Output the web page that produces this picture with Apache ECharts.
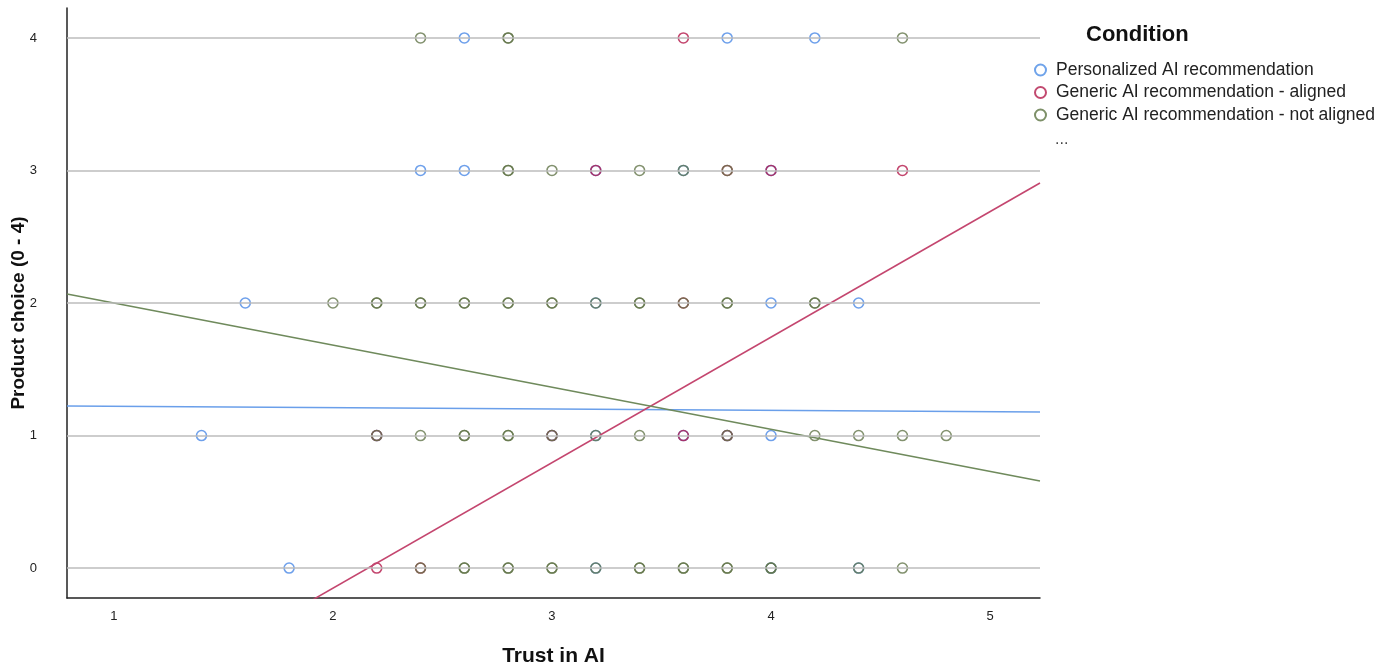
<!DOCTYPE html>
<html>
<head>
<meta charset="utf-8">
<script src="https://cdn.jsdelivr.net/npm/echarts@6/dist/echarts.min.js"></script>
<style>
  html, body { margin: 0; padding: 0; background: #fff; }
  #chart { width: 1385px; height: 668px; }
</style>
</head>
<body>
<div id="chart"></div>
<script>
// scatter points [trust, choice]
const personalized = [
  [2.6, 4], [3.8, 4], [4.2, 4],
  [2.4, 3], [2.6, 3], [3.2, 3], [3.6, 3], [4.0, 3],
  [1.6, 2], [3.2, 2], [4.0, 2], [4.4, 2],
  [1.4, 1], [2.2, 1], [3.0, 1], [3.2, 1], [3.6, 1], [3.8, 1], [4.0, 1],
  [1.8, 0], [3.2, 0], [4.0, 0], [4.4, 0]
];
const aligned = [
  [3.6, 4],
  [3.2, 3], [3.8, 3], [4.0, 3], [4.6, 3],
  [3.6, 2],
  [2.2, 1], [3.0, 1], [3.6, 1], [3.8, 1],
  [2.2, 0], [2.4, 0]
];
const notAligned = [
  [2.4, 4], [2.8, 4], [2.8, 4], [4.6, 4],
  [2.8, 3], [2.8, 3], [3.0, 3], [3.4, 3], [3.6, 3], [3.8, 3],
  [2.0, 2], [2.2, 2], [2.2, 2], [2.4, 2], [2.4, 2], [2.6, 2], [2.6, 2], [2.8, 2], [2.8, 2],
  [3.0, 2], [3.0, 2], [3.2, 2], [3.4, 2], [3.4, 2], [3.6, 2], [3.8, 2], [3.8, 2], [4.2, 2], [4.2, 2],
  [2.2, 1], [2.4, 1], [2.6, 1], [2.6, 1], [2.8, 1], [2.8, 1], [3.0, 1], [3.2, 1], [3.4, 1],
  [3.8, 1], [4.2, 1], [4.4, 1], [4.6, 1], [4.8, 1],
  [2.4, 0], [2.6, 0], [2.6, 0], [2.8, 0], [2.8, 0], [3.0, 0], [3.0, 0], [3.2, 0], [3.4, 0],
  [3.4, 0], [3.6, 0], [3.6, 0], [3.8, 0], [3.8, 0], [4.0, 0], [4.0, 0], [4.4, 0], [4.6, 0]
];

// fit lines, endpoints read at the plot edges
const fitPersonalized = [[0.786, 1.223], [5.228, 1.177]];
const fitAligned = [[0.786, -1.302], [5.228, 2.906]];
const fitNotAligned = [[0.786, 2.068], [5.228, 0.657]];

const yTicks = [0, 1, 2, 3, 4];
const names = [
  "Personalized AI recommendation",
  "Generic AI recommendation - aligned",
  "Generic AI recommendation - not aligned"
];

const font = "Liberation Sans, Arial, sans-serif";
const pointColors = ["rgb(74,136,230)", "rgb(180,24,74)", "rgb(99,118,74)"];
const legendColors = ["#6fa3ea", "#c24a70", "#7d9068"];
const lineColors = ["#6a9fea", "#c4466f", "#6f8a5c"];

let myChart = echarts.init(document.querySelector("#chart"));

const scatter = (name, data, i) => ({
  name: name,
  type: "scatter",
  data: data,
  symbol: "circle",
  symbolSize: 10,
  itemStyle: {
    color: "rgba(0,0,0,0)",
    borderColor: pointColors[i],
    borderWidth: 1.6,
    opacity: 0.8,
  },
  z: 3,
});

const fitLine = (data, i) => ({
  type: "line",
  data: data,
  symbol: "none",
  silent: true,
  lineStyle: { color: lineColors[i], width: 1.6 },
  z: 4,
});

let option = {
  animation: false,
  title: {
    text: "Condition",
    left: 1086,
    top: 24,
    padding: 0,
    textStyle: { fontFamily: font, fontWeight: "bold", fontSize: 22, color: "#111" },
  },
  legend: {
    orient: "vertical",
    left: 1034,
    top: 61,
    padding: 0,
    itemWidth: 11,
    itemHeight: 11,
    itemGap: 4.5,
    textStyle: { fontFamily: font, fontSize: 17.5, color: "#222", padding: [0, 0, 0, 5] },
    data: names.map((n, i) => ({
      name: n,
      icon: "emptyCircle",
      itemStyle: { color: legendColors[i], borderColor: legendColors[i], borderWidth: 1.5, opacity: 1 },
    })),
  },
  graphic: [
    {
      type: "text",
      left: 1055,
      top: 132,
      style: { text: "...", font: "16px " + font, fill: "#444" },
    },
  ],
  grid: {
    left: 67,
    right: 345,
    top: 8,
    bottom: 70,
    outerBoundsMode: "none",
  },
  xAxis: {
    type: "value",
    min: 0.786,
    max: 5.228,
    name: "Trust in AI",
    nameLocation: "middle",
    nameGap: 48,
    nameMoveOverlap: false,
    nameTextStyle: { fontFamily: font, fontWeight: "bold", fontSize: 21, color: "#111" },
    axisLine: { show: true, onZero: false, lineStyle: { color: "#222", width: 1.5 } },
    axisTick: { show: false },
    splitLine: { show: false },
    axisLabel: {
      margin: 12,
      fontFamily: font,
      fontSize: 13,
      color: "#222",
      formatter: (v) => (Number.isInteger(v) ? String(v) : ""),
    },
  },
  yAxis: {
    type: "value",
    min: -0.226,
    max: 4.226,
    name: "Product choice (0 - 4)",
    nameLocation: "middle",
    nameGap: 39,
    nameMoveOverlap: false,
    nameTextStyle: {
      fontFamily: font,
      fontWeight: "bold",
      fontSize: 19,
      color: "#111",
      padding: [0, 20, 0, 0],
    },
    axisLine: { show: true, onZero: false, lineStyle: { color: "#222", width: 1.5 } },
    axisTick: { show: false },
    splitLine: { show: false },
    axisLabel: {
      margin: 30,
      fontFamily: font,
      fontSize: 13,
      color: "#222",
      formatter: (v) => (Number.isInteger(v) ? String(v) : ""),
    },
  },
  series: [
    {
      type: "line",
      data: [],
      silent: true,
      markLine: {
        silent: true,
        symbol: "none",
        label: { show: false },
        lineStyle: { color: "#bdbdbd", width: 1.5, type: "solid" },
        data: yTicks.map((v) => ({ yAxis: v })),
      },
      z: 1,
    },
    scatter(names[0], personalized, 0),
    scatter(names[1], aligned, 1),
    scatter(names[2], notAligned, 2),
    fitLine(fitPersonalized, 0),
    fitLine(fitAligned, 1),
    fitLine(fitNotAligned, 2),
  ],
};
myChart.setOption(option);
window.addEventListener("resize", () => {
  myChart.resize();
});
</script>
</body>
</html>
